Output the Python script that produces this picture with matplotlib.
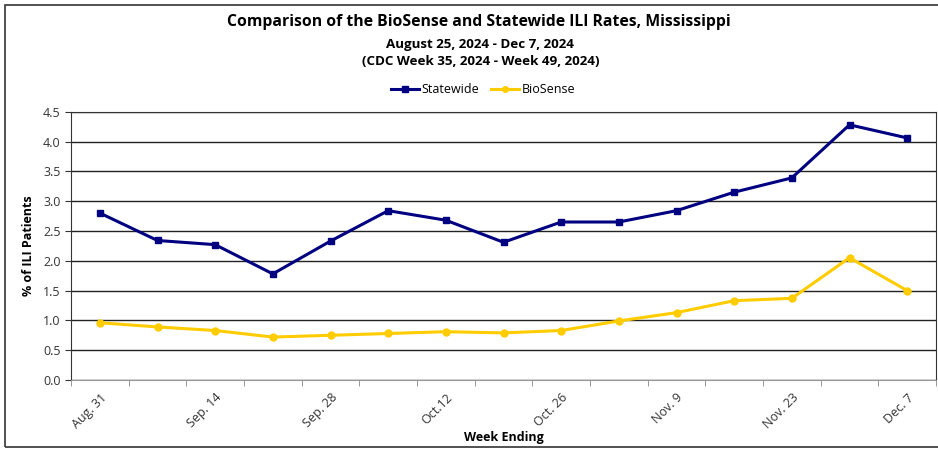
import numpy as np
import matplotlib.pyplot as plt
from matplotlib.patches import Rectangle

plt.rcParams['font.family'] = ['Open Sans', 'DejaVu Sans']

weeks = ['Aug. 31', 'Sep. 7', 'Sep. 14', 'Sep. 21', 'Sep. 28', 'Oct. 5', 'Oct.12',
         'Oct. 19', 'Oct. 26', 'Nov. 2', 'Nov. 9', 'Nov. 16', 'Nov. 23', 'Nov. 30', 'Dec. 7']
statewide = [2.80, 2.34, 2.27, 1.78, 2.33, 2.84, 2.68, 2.31, 2.65, 2.65, 2.84, 3.15, 3.39, 4.28, 4.06]
biosense = [0.96, 0.89, 0.83, 0.72, 0.75, 0.78, 0.81, 0.79, 0.83, 0.99, 1.13, 1.33, 1.37, 2.05, 1.50]

fig = plt.figure(figsize=(9.38, 4.49), dpi=100)
ax = fig.add_axes([71 / 938, 69 / 449, 865 / 938, 268.3 / 449])

x = np.arange(len(weeks))
ax.plot(x, statewide, color='#000080', lw=2.2, marker='s', ms=5, label='Statewide', zorder=3)
ax.plot(x, biosense, color='#FFCC00', lw=2.2, marker='o', ms=5, label='BioSense', zorder=3)

ax.set_xlim(-0.5, len(weeks) - 0.5)
ax.set_ylim(0, 4.5)
ax.set_yticks(np.arange(0, 4.51, 0.5))
ax.set_yticklabels([f'{v:.1f}' for v in np.arange(0, 4.51, 0.5)], fontsize=9, color='#333333')
ax.yaxis.grid(True, color='#222222', lw=1.0)
ax.set_axisbelow(True)

ax.set_xticks(x[::2])
ax.set_xticklabels(weeks[::2], rotation=45, ha='right', rotation_mode='anchor',
                   fontsize=9, color='#333333')
ax.set_xticks(np.arange(-0.5, len(weeks), 1), minor=True)
ax.tick_params(axis='x', which='major', length=0, pad=8)
ax.tick_params(axis='x', which='minor', length=4, color='#888888')
ax.tick_params(axis='y', length=4, color='#333333')

for s in ['left', 'top', 'right']:
    ax.spines[s].set_color('#333333')
ax.spines['bottom'].set_color('#999999')

ax.set_ylabel('% of ILI Patients', fontsize=9, fontweight='bold', labelpad=6)
ax.set_xlabel('Week Ending', fontsize=9, fontweight='bold', labelpad=0)

fig.text(0.51, 0.95, 'Comparison of the BioSense and Statewide ILI Rates, Mississippi',
         ha='center', va='center', fontsize=11.3, fontweight='bold')
fig.text(0.512, 0.90, 'August 25, 2024 - Dec 7, 2024', ha='center', va='center',
         fontsize=9.6, fontweight='bold')
fig.text(0.512, 0.862, '(CDC Week 35, 2024 - Week 49, 2024)', ha='center', va='center',
         fontsize=9.6, fontweight='bold')

fig.legend(loc='center', bbox_to_anchor=(0.515, 0.80), ncol=2, frameon=False,
           fontsize=9, handlelength=2.2, handletextpad=0.2, columnspacing=1.0,
           markerscale=0.8)

fig.patches.append(Rectangle((5 / 938, 2 / 449), 940 / 938, 442 / 449,
                             transform=fig.transFigure, fill=False,
                             edgecolor='#333333', lw=1.2))

fig.savefig('out.png', dpi=100)
